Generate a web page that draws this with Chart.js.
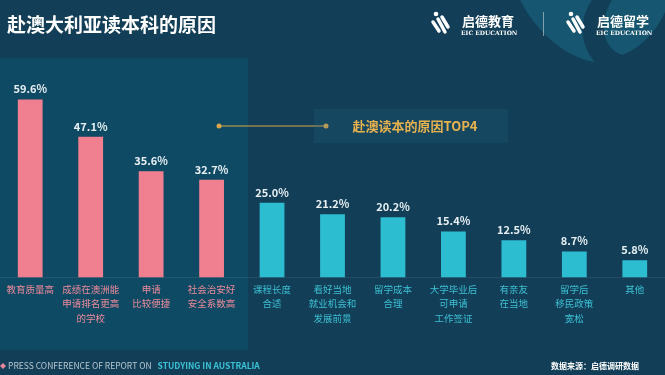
<!DOCTYPE html>
<html>
<head>
<meta charset="utf-8">
<script src="https://cdn.jsdelivr.net/npm/chart.js@4.4.0/dist/chart.umd.min.js"></script>
<style>
  html, body { margin: 0; padding: 0; background: #133f58; }
  #wrap { width: 665px; height: 375px; position: relative; }
</style>
</head>
<body>
<div id="wrap"><canvas id="chartReasons" width="665" height="375"></canvas></div>
<script>
const labels = [
    '教育质量高',
    ['成绩在澳洲能', '申请排名更高', '的学校'],
    ['申请', '比较便捷'],
    ['社会治安好', '安全系数高'],
    ['课程长度', '合适'],
    ['看好当地', '就业机会和', '发展前景'],
    ['留学成本', '合理'],
    ['大学毕业后', '可申请', '工作签证'],
    ['有亲友', '在当地'],
    ['留学后', '移民政策', '宽松'],
    '其他'
];
const values = [59.6, 47.1, 35.6, 32.7, 25.0, 21.2, 20.2, 15.4, 12.5, 8.7, 5.8];
const topCount = 4;
const title = '赴澳大利亚读本科的原因';
const calloutText = '赴澳读本的原因TOP4';
const sourceText = '数据来源：启德调研数据';

const PINK = '#f0808f', CYAN = '#2dbdd1';
const FONT = '"Noto Sans CJK SC", "Noto Sans", sans-serif';

// background, panel, header and footer
const backdrop = {
    id: 'backdrop',
    beforeDraw(chart) {
        const c = chart.ctx;
        c.save();
        c.fillStyle = '#123e57';
        c.fillRect(0, 0, chart.width, chart.height);

        // swoosh decoration top right
        c.fillStyle = '#165670';
        c.beginPath();
        c.moveTo(520, 0);
        c.bezierCurveTo(535, 30, 565, 58, 595, 62);
        c.bezierCurveTo(580, 45, 578, 20, 592, 0);
        c.closePath();
        c.fill();
        c.beginPath();
        c.moveTo(612, 0);
        c.bezierCurveTo(598, 22, 602, 48, 622, 55);
        c.bezierCurveTo(642, 48, 658, 28, 665, 12);
        c.lineTo(665, 0);
        c.closePath();
        c.fill();

        // left panel behind the top four
        c.fillStyle = '#0f4a64';
        c.fillRect(0, 58, 248, 292);
        c.restore();
    },
    afterDraw(chart) {
        const c = chart.ctx;
        c.save();
        // title
        c.fillStyle = '#ffffff';
        c.font = 'bold 19px ' + FONT;
        c.textBaseline = 'middle';
        c.fillText(title, 7, 25);

        // logos
        drawLogo(c, 430, '启德教育');
        c.strokeStyle = 'rgba(255,255,255,0.45)';
        c.lineWidth = 1;
        c.beginPath();
        c.moveTo(543.5, 12);
        c.lineTo(543.5, 36);
        c.stroke();
        drawLogo(c, 565, '启德留学');

        // callout
        c.strokeStyle = '#d9a74a';
        c.fillStyle = '#d9a74a';
        c.lineWidth = 1;
        c.beginPath();
        c.moveTo(219, 126);
        c.lineTo(326, 126);
        c.stroke();
        [219, 326].forEach(x => {
            c.beginPath();
            c.arc(x, 126, 2.5, 0, Math.PI * 2);
            c.fill();
        });
        c.fillStyle = 'rgba(40,110,140,0.2)';
        c.fillRect(314, 109, 194, 34);
        c.fillStyle = '#e9b24d';
        c.font = 'bold 13px ' + FONT;
        c.textAlign = 'center';
        c.fillText(calloutText, 415, 126);

        // footer
        c.textAlign = 'left';
        c.fillStyle = '#e8879a';
        c.beginPath();
        c.moveTo(3, 363); c.lineTo(6, 366); c.lineTo(3, 369); c.lineTo(0, 366);
        c.closePath();
        c.fill();
        c.font = '8.5px ' + FONT;
        c.fillStyle = '#b7c7d0';
        const pre = 'PRESS CONFERENCE OF REPORT ON';
        c.fillText(pre, 8, 366);
        const preW = c.measureText(pre).width;
        c.font = 'bold 8.5px ' + FONT;
        c.fillStyle = '#3cc3d6';
        c.fillText('STUDYING IN AUSTRALIA', 8 + preW + 6, 366);
        c.font = 'bold 8px ' + FONT;
        c.fillStyle = '#ffffff';
        c.textAlign = 'right';
        c.fillText(sourceText, 639, 366);

        // value labels
        c.textAlign = 'center';
        c.textBaseline = 'bottom';
        c.font = 'bold 11px ' + FONT;
        c.fillStyle = '#e8f0f4';
        chart.getDatasetMeta(0).data.forEach((bar, i) => {
            c.fillText(values[i].toFixed(1) + '%', bar.x, bar.y - 5);
        });
        c.restore();
    }
};

function drawLogo(c, x, name) {
    c.save();
    c.fillStyle = '#ffffff';
    c.strokeStyle = '#ffffff';
    c.lineCap = 'round';
    c.lineWidth = 3.5;
    c.beginPath();
    c.moveTo(x + 3, 22);
    c.lineTo(x + 9, 31);
    c.stroke();
    c.beginPath();
    c.moveTo(x + 8, 19);
    c.lineTo(x + 15, 32);
    c.stroke();
    c.beginPath();
    c.moveTo(x + 12, 17);
    c.lineTo(x + 18, 27);
    c.stroke();
    c.beginPath();
    c.arc(x + 6, 14, 2.3, 0, Math.PI * 2);
    c.fill();
    c.font = 'bold 13px ' + FONT;
    c.textBaseline = 'middle';
    c.fillText(name, x + 32, 21);
    c.font = 'bold 6px "DejaVu Serif", serif';
    c.fillText('EIC EDUCATION', x + 31, 33);
    c.restore();
}

const ctx = document.getElementById('chartReasons').getContext('2d');
const chart = new Chart(ctx, {
    type: 'bar',
    data: {
        labels: labels,
        datasets: [{
            data: values,
            backgroundColor: values.map((v, i) => i < topCount ? PINK : CYAN),
            barPercentage: 0.82,
            categoryPercentage: 0.5
        }]
    },
    options: {
        responsive: false,
        animation: false,
        layout: { padding: { top: 68.5, left: -3.5, right: -2.5, bottom: 0 } },
        plugins: { legend: { display: false }, tooltip: { enabled: false } },
        scales: {
            x: {
                grid: { display: false, drawTicks: false },
                border: { display: true, color: 'rgba(255,255,255,0.08)', width: 1 },
                ticks: {
                    autoSkip: false,
                    maxRotation: 0,
                    padding: 5,
                    color: c => c.index < topCount ? '#ee8a9a' : '#3cc0d3',
                    font: { family: FONT, size: 9.5, lineHeight: 1.5 }
                },
                afterFit: s => { s.height = 97.5; }
            },
            y: {
                display: false,
                min: 0,
                max: 70
            }
        }
    },
    plugins: [backdrop]
});
</script>
</body>
</html>
